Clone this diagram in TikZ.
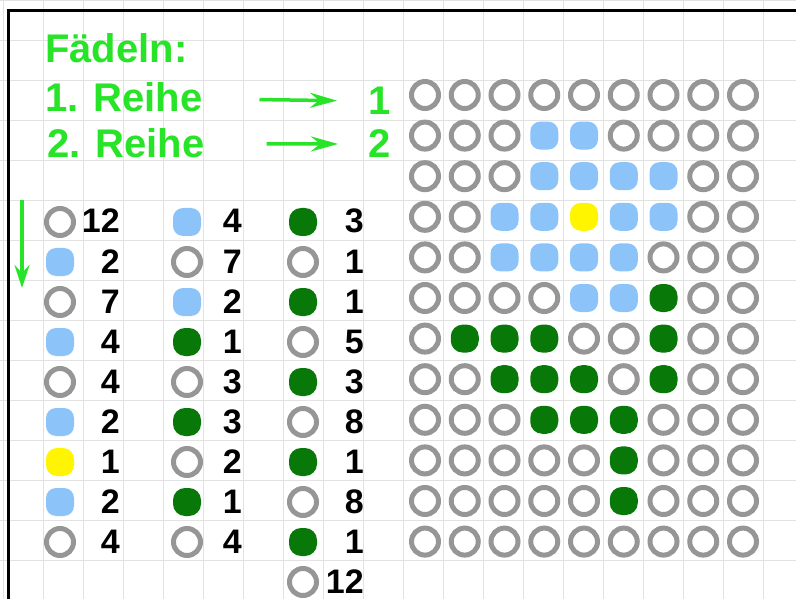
\documentclass[tikz,border=0pt]{standalone}
\usepackage{fontspec}
\setmainfont{Liberation Sans}
\usetikzlibrary{arrows.meta}
\definecolor{titlegreen}{RGB}{40,228,40}
\definecolor{beadgray}{RGB}{150,150,150}
\definecolor{beadblue}{RGB}{140,196,250}
\definecolor{beadgreen}{RGB}{8,120,8}
\definecolor{beadyellow}{RGB}{255,245,0}
\definecolor{gridgray}{RGB}{226,226,226}
\tikzset{
  bead/.style={inner sep=0pt, minimum size=28pt},
  bead o/.style={bead, circle, draw=beadgray, line width=5pt, minimum size=27pt},
  bead b/.style={bead, rectangle, rounded corners=10pt, fill=beadblue},
  bead g/.style={bead, rectangle, rounded corners=12pt, fill=beadgreen},
  bead y/.style={bead, rectangle, rounded corners=11pt, fill=beadyellow},
  num/.style={anchor=base east, inner sep=0pt, font=\fontsize{34}{34}\selectfont\bfseries},
  title/.style={anchor=base west, inner sep=0pt, text=titlegreen, font=\fontsize{40}{40}\selectfont\bfseries},
  garrow/.style={draw=titlegreen, line width=3.5pt, -{Stealth[length=27pt,width=15pt,inset=9pt]}},
  gridline/.style={draw=gridgray, line width=0.8pt}
}
\begin{document}
\begin{tikzpicture}[x=1pt,y=-1pt]
    \useasboundingbox (0,0) rectangle (796,599);
    \clip (0,0) rectangle (796,599);
    \fill[white] (0,0) rectangle (796,599);
    \foreach \gx in {3,43,...,795} \draw[gridline] (\gx,0) -- (\gx,599);
    \foreach \gy in {0,40,...,599} \draw[gridline] (0,\gy) -- (796,\gy);
    \draw[line width=3pt, line join=miter] (8,605) -- (8,11) -- (805,11);
    \node[title] (head) at (45,63) {Fädeln:};
    \node[title] (lab1) at (45,112) {1. Reihe};
    \node[title] (lab2) at (47,158) {2. Reihe};
    \node[title] (num1) at (368,115) {1};
    \node[title] (num2) at (368,158) {2};
    \draw[garrow, shorten <=57pt, shorten >=31pt] (lab1) -- (num1);
    \draw[garrow, shorten <=62pt, shorten >=30pt] (lab2) -- (num2);
    \coordinate (dtop) at (22,200);
    \coordinate (dbot) at (22,288);
    \draw[garrow, -{Stealth[length=23pt,width=15pt,inset=8pt]}] (dtop) -- (dbot);
    \foreach \col/\bx/\nx/\beads in {
      1/60/120/{o/12,b/2,o/7,b/4,o/4,b/2,y/1,b/2,o/4},
      2/187/242/{b/4,o/7,b/2,g/1,o/3,g/3,o/2,g/1,o/4},
      3/303/364/{g/3,o/1,g/1,o/5,g/3,o/8,g/1,o/8,g/1,o/12}}
    {
      \foreach \t/\n [count=\k] in \beads {
        \node[bead \t] (l\col-\k) at (\bx,{222+40*(\k-1)}) {};
        \node[num] (n\col-\k) at (\nx,{233+40*(\k-1)}) {\n};
      }
    }
    \foreach \r/\row in {
       1/{o,o,o,o,o,o,o,o,o},
       2/{o,o,o,b,b,o,o,o,o},
       3/{o,o,o,b,b,b,b,o,o},
       4/{o,o,b,b,y,b,b,o,o},
       5/{o,o,b,b,b,b,o,o,o},
       6/{o,o,o,o,b,b,g,o,o},
       7/{o,g,g,g,o,o,g,o,o},
       8/{o,o,g,g,g,o,g,o,o},
       9/{o,o,o,g,g,g,o,o,o},
      10/{o,o,o,o,o,g,o,o,o},
      11/{o,o,o,o,o,g,o,o,o},
      12/{o,o,o,o,o,o,o,o,o}}
    {
      \foreach \t [count=\c] in \row
        \node[bead \t] (g\r-\c) at ({425+39.75*(\c-1)},{95+40.6*(\r-1)}) {};
    }
  \end{tikzpicture}
\end{document}
